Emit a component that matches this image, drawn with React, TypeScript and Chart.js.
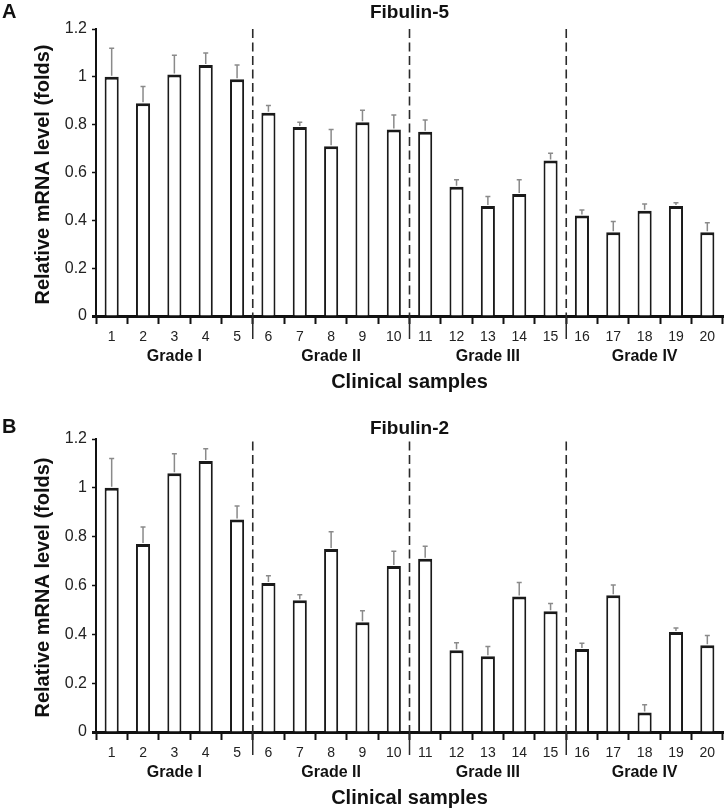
import { useEffect, useRef } from "react";
import { Chart, registerables } from "chart.js";

Chart.register(...registerables);

// ---------------- data ----------------
const samples = ["1", "2", "3", "4", "5", "6", "7", "8", "9", "10", "11", "12", "13", "14", "15", "16", "17", "18", "19", "20"];
const groupLabels = ["Grade I", "Grade II", "Grade III", "Grade IV"];
const groupSize = 5;
const yTickValues = [0, 0.2, 0.4, 0.6, 0.8, 1.0, 1.2];

const fibulin5Values = [1.0, 0.89, 1.01, 1.05, 0.99, 0.85, 0.79, 0.71, 0.81, 0.78, 0.77, 0.54, 0.46, 0.51, 0.65, 0.42, 0.35, 0.44, 0.46, 0.35];
const fibulin5Errors = [0.12, 0.07, 0.08, 0.05, 0.06, 0.03, 0.02, 0.07, 0.05, 0.06, 0.05, 0.03, 0.04, 0.06, 0.03, 0.023, 0.045, 0.028, 0.013, 0.04];

const fibulin2Values = [1.0, 0.77, 1.06, 1.11, 0.87, 0.61, 0.54, 0.75, 0.45, 0.68, 0.71, 0.335, 0.31, 0.555, 0.495, 0.34, 0.56, 0.08, 0.41, 0.355];
const fibulin2Errors = [0.12, 0.07, 0.08, 0.05, 0.056, 0.03, 0.022, 0.07, 0.047, 0.06, 0.051, 0.031, 0.04, 0.057, 0.031, 0.023, 0.042, 0.032, 0.016, 0.04];

const FONT = "'Liberation Sans', Arial, Helvetica, sans-serif";
const W = 726;
const H = 405;

type PanelProps = {
  letter: string;
  title: string;
  values: number[];
  errors: number[];
  plotTop: number;
  plotBottom: number;
  dividerTop: number;
  letterBaseline: number;
  titleBaseline: number;
};

function Panel(props: PanelProps) {
  const ref = useRef<HTMLCanvasElement | null>(null);

  useEffect(() => {
    const canvas = ref.current;
    if (!canvas) return;
    const { letter, title, values, errors, plotTop, plotBottom, dividerTop, letterBaseline, titleBaseline } = props;

    const decor = {
      id: "decor",
      afterDatasetsDraw(chart: any) {
        const ctx = chart.ctx as CanvasRenderingContext2D;
        const xs = chart.scales.x;
        const ys = chart.scales.y;
        const area = chart.chartArea;
        ctx.save();
        // error bars
        ctx.strokeStyle = "#8a8a8a";
        ctx.lineWidth = 1.5;
        values.forEach((v, i) => {
          const x = xs.getPixelForValue(i);
          const y0 = ys.getPixelForValue(v);
          const y1 = ys.getPixelForValue(v + errors[i]);
          ctx.beginPath();
          ctx.moveTo(x, y0 - 1);
          ctx.lineTo(x, y1);
          ctx.moveTo(x - 2.5, y1);
          ctx.lineTo(x + 2.5, y1);
          ctx.stroke();
        });
        // dashed group dividers
        ctx.strokeStyle = "#2a2a2a";
        ctx.lineWidth = 1.6;
        ctx.setLineDash([9, 4.5]);
        for (let g = 1; g < groupLabels.length; g++) {
          const xb = (xs.getPixelForValue(g * groupSize - 1) + xs.getPixelForValue(g * groupSize)) / 2;
          ctx.beginPath();
          ctx.moveTo(xb, ys.getPixelForValue(dividerTop));
          ctx.lineTo(xb, area.bottom);
          ctx.stroke();
        }
        ctx.setLineDash([]);
        ctx.restore();
      },
      afterDraw(chart: any) {
        const ctx = chart.ctx as CanvasRenderingContext2D;
        const xs = chart.scales.x;
        const area = chart.chartArea;
        ctx.save();
        // x axis line stub left of the y axis
        ctx.strokeStyle = "#111";
        ctx.lineWidth = 3;
        ctx.beginPath();
        ctx.moveTo(area.left - 4, area.bottom + 0.5);
        ctx.lineTo(area.left, area.bottom + 0.5);
        ctx.stroke();
        // long ticks at group boundaries
        ctx.strokeStyle = "#2a2a2a";
        ctx.lineWidth = 1.5;
        for (let g = 1; g < groupLabels.length; g++) {
          const xb = (xs.getPixelForValue(g * groupSize - 1) + xs.getPixelForValue(g * groupSize)) / 2;
          ctx.beginPath();
          ctx.moveTo(xb, area.bottom);
          ctx.lineTo(xb, area.bottom + 23);
          ctx.stroke();
        }
        ctx.fillStyle = "#111";
        ctx.textAlign = "center";
        ctx.textBaseline = "middle";
        ctx.font = `bold 16px ${FONT}`;
        groupLabels.forEach((lab, g) => {
          const xc = (xs.getPixelForValue(g * groupSize) + xs.getPixelForValue(g * groupSize + groupSize - 1)) / 2;
          ctx.fillText(lab, xc, area.bottom + 41);
        });
        ctx.font = `bold 20px ${FONT}`;
        ctx.fillText("Clinical samples", (area.left + area.right) / 2, area.bottom + 66);
        // y title
        ctx.save();
        ctx.translate(43, (area.top + area.bottom) / 2 + 2);
        ctx.rotate(-Math.PI / 2);
        ctx.font = `bold 20px ${FONT}`;
        ctx.fillText("Relative mRNA level (folds)", 0, 0);
        ctx.restore();
        // panel letter and title
        ctx.textBaseline = "alphabetic";
        ctx.textAlign = "left";
        ctx.font = `bold 20px ${FONT}`;
        ctx.fillText(letter, 2, letterBaseline);
        ctx.textAlign = "center";
        ctx.font = `bold 19px ${FONT}`;
        ctx.fillText(title, (area.left + area.right) / 2, titleBaseline);
        ctx.restore();
      },
    };

    const chart = new Chart(canvas, {
      type: "bar",
      data: {
        labels: samples,
        datasets: [
          {
            data: values,
            backgroundColor: "#ffffff",
            borderColor: "#1a1a1a",
            borderWidth: { top: 3, left: 2, right: 2, bottom: 0 },
            borderSkipped: false,
            barPercentage: 0.45,
            categoryPercentage: 1,
          },
        ],
      },
      options: {
        responsive: false,
        animation: false,
        devicePixelRatio: 1,
        layout: { padding: { top: plotTop, right: 3, left: 0, bottom: 0 } },
        plugins: { legend: { display: false }, title: { display: false }, tooltip: { enabled: false } },
        scales: {
          x: {
            grid: { display: true, drawOnChartArea: false, drawTicks: true, tickLength: 8, tickWidth: 2, tickColor: "#111", offset: true },
            border: { display: true, color: "#111", width: 3 },
            ticks: { color: "#222", font: { family: FONT, size: 14 }, padding: 5, maxRotation: 0, autoSkip: false },
            afterFit: (s: any) => {
              s.height = H - plotBottom;
            },
          },
          y: {
            min: 0,
            max: 1.2,
            afterBuildTicks: (s: any) => {
              s.ticks = yTickValues.map((v) => ({ value: v }));
            },
            grid: { display: true, drawOnChartArea: false, drawTicks: true, tickLength: 4, tickWidth: 1.5, tickColor: "#111" },
            border: { display: true, color: "#111", width: 2 },
            ticks: {
              color: "#222",
              font: { family: FONT, size: 16 },
              padding: 5,
              callback: (v: any) => String(Number(Number(v).toFixed(1))),
            },
            afterFit: (s: any) => {
              s.width = 96;
            },
          },
        },
      },
      plugins: [decor],
    });
    return () => chart.destroy();
  }, []);

  return <canvas ref={ref} width={W} height={H} style={{ display: "block", width: W, height: H }} />;
}

export default function App() {
  return (
    <div style={{ position: "absolute", left: 0, top: 0, width: W, height: 810, background: "#fff" }}>
      <Panel
        letter="A"
        title="Fibulin-5"
        values={fibulin5Values}
        errors={fibulin5Errors}
        plotTop={29}
        plotBottom={316}
        dividerTop={1.2}
        letterBaseline={18}
        titleBaseline={18}
      />
      <Panel
        letter="B"
        title="Fibulin-2"
        values={fibulin2Values}
        errors={fibulin2Errors}
        plotTop={34}
        plotBottom={327}
        dividerTop={1.19}
        letterBaseline={28}
        titleBaseline={29}
      />
    </div>
  );
}
